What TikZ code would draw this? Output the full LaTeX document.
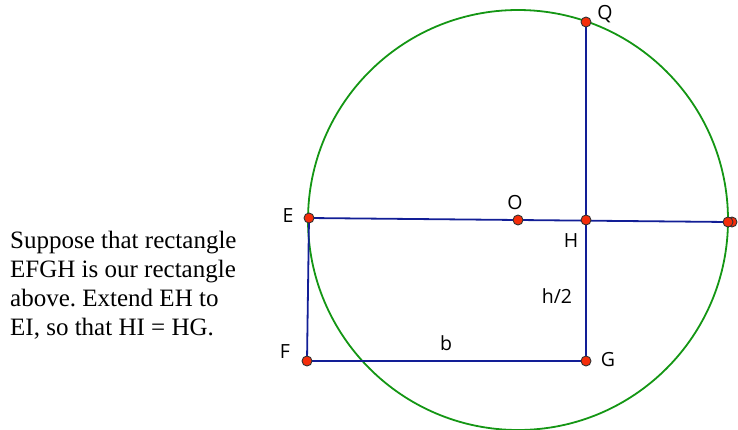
\documentclass[tikz,border=0pt]{standalone}
\usepackage{fontspec}
\setmainfont{Liberation Serif}
\newfontfamily\labelfont{Open Sans}
\usepackage{tikz}
\usetikzlibrary{positioning,calc}

\definecolor{segblue}{RGB}{18,30,150}
\definecolor{circgreen}{RGB}{20,150,20}
\definecolor{ptred}{RGB}{245,45,10}

\tikzset{
  seg/.style={segblue, line width=1.8pt},
  pt/.style={circle, fill=ptred, draw=black!80, line width=0.9pt, inner sep=0pt, minimum size=10pt},
  lbl/.style={font=\labelfont\fontsize{19.5}{22}\selectfont, inner sep=0pt}
}

\begin{document}
\frenchspacing
\begin{tikzpicture}[x=1pt, y=-1pt]
  \useasboundingbox (0,0) rectangle (738,429);
  % points of the figure
  \coordinate (E) at (309,218);
  \coordinate (O) at (518,220);
  \coordinate (H) at (586,220);
  \coordinate (I) at (728,222);
  \coordinate (I2) at (732,222);
  \coordinate (F) at (307,361);
  \coordinate (G) at (586,361);
  \coordinate (Q) at (586,22);

  \draw[circgreen, line width=1.8pt] (O) circle (210);

  \draw[seg] (E) -- (I);
  \draw[seg] (Q) -- (G);
  \draw[seg] (E) -- (F) -- (G);

  \foreach \p in {I2, I, E, O, H, F, G, Q}
    \node[pt] at (\p) {};

  \node[lbl] (labE) at (288,216) {E};
  \node[lbl] (labO) at (515,203) {O};
  \node[lbl] (labH) at (571,241) {H};
  \node[lbl] (labQ) at (605,14) {Q};
  \node[lbl] (labF) at (285,352) {F};
  \node[lbl] (labG) at (608,360) {G};
  \node[lbl] (labb) at (446,343) {b};
  \node[lbl] (labh) at (557,296) {h/2};

  \node[anchor=base west, align=left, inner sep=0pt,
        font=\fontsize{25}{29}\selectfont] (note) at (10,335)
    {Suppose that rectangle\\EFGH is our rectangle\\above. Extend EH to\\EI, so that HI = HG.};
\end{tikzpicture}
\end{document}
